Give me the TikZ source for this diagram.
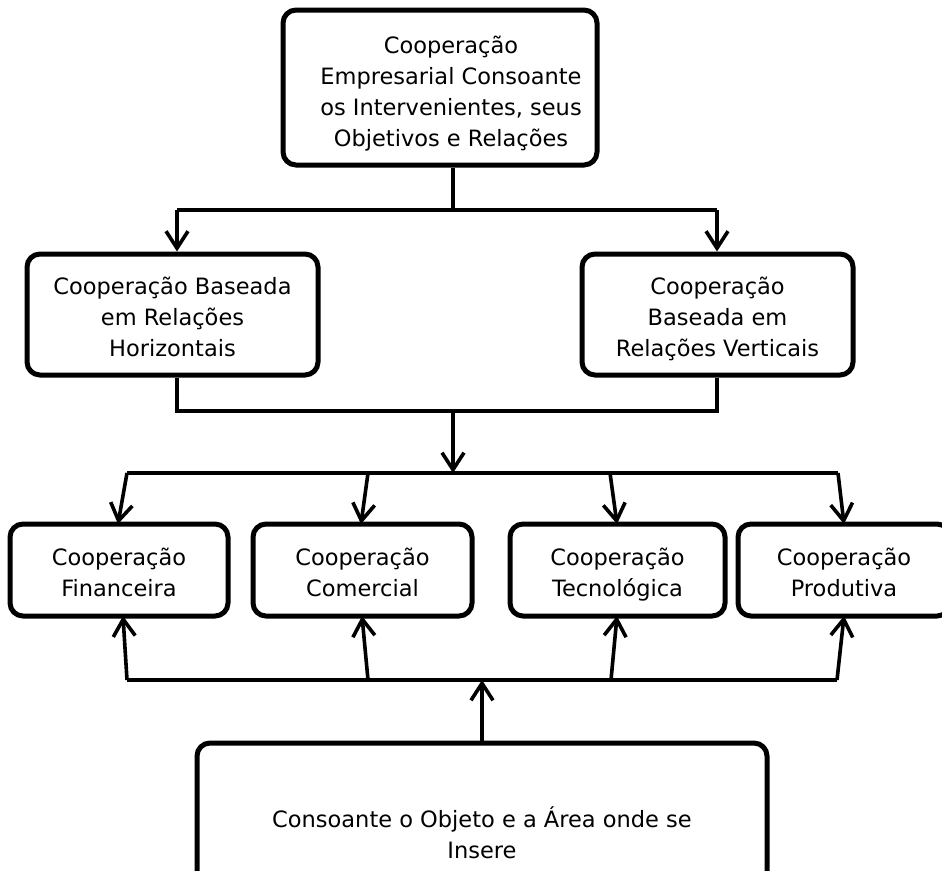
\documentclass[tikz,border=0pt]{standalone}
\usepackage{fontspec}
\setmainfont{DejaVu Sans}
\usetikzlibrary{arrows.meta}
\newcommand{\firstln}{\rule{0pt}{31.7pt}}
\tikzset{
  box/.style={draw=black, line width=5pt, rounded corners=13pt, fill=white,
    align=center, inner sep=0pt, font=\fontsize{22.5}{31}\selectfont,
    execute at end node={\strut}},
  conn/.style={draw=black, line width=3.6pt},
  arr/.style={conn, -{Straight Barb[length=17pt,width=22pt,line width=3.6pt]}}
}
\begin{document}
\begin{tikzpicture}[x=1pt,y=-1pt]
\useasboundingbox (0,0) rectangle (942,870);
\clip (0,0) rectangle (942,870);
% boxes
\node[box, minimum width=314pt, minimum height=155pt] (top) at (440,87.5)
  {\hspace*{22pt}\rule{0pt}{34.7pt}Cooperação\\\hspace*{22pt}Empresarial Consoante\\\hspace*{22pt}os Intervenientes, seus\\\hspace*{22pt}Objetivos e Relações};
\node[box, minimum width=291pt, minimum height=121pt] (midL) at (172.5,314.5)
  {\firstln Cooperação Baseada\\em Relações\\Horizontais};
\node[box, minimum width=271pt, minimum height=121pt] (midR) at (717.5,314.5)
  {\firstln Cooperação\\Baseada em\\Relações Verticais};
\node[box, minimum width=218pt, minimum height=92pt] (b1) at (119,570)
  {\firstln Cooperação\\Financeira};
\node[box, minimum width=219pt, minimum height=92pt] (b2) at (362.5,570)
  {\firstln Cooperação\\Comercial};
\node[box, minimum width=215pt, minimum height=92pt] (b3) at (617.5,570)
  {\firstln Cooperação\\Tecnológica};
\node[box, minimum width=212pt, minimum height=92pt] (b4) at (844,570)
  {\firstln Cooperação\\Produtiva};
\node[box, minimum width=570pt, minimum height=178pt] (bot) at (482,832)
  {\firstln Consoante o Objeto e a Área onde se\\Insere};
% junction coordinates
\coordinate (t1) at (453,210);
\coordinate (tL) at (177,210);
\coordinate (tR) at (717,210);
\coordinate (m1) at (453,411);
\coordinate (mL) at (177,411);
\coordinate (mR) at (717,411);
\coordinate (r1) at (127,473);
\coordinate (r2) at (368,473);
\coordinate (r3) at (610,473);
\coordinate (r4) at (838,473);
\coordinate (rm) at (453,473);
\coordinate (u1) at (127,680);
\coordinate (u2) at (368,680);
\coordinate (u3) at (611,680);
\coordinate (u4) at (837,680);
\coordinate (um) at (482,680);
% top tree
\draw[conn] (top.south -| t1) -- (t1);
\draw[conn] (tL) -- (tR);
\draw[arr] (tL) -- (midL.north -| tL);
\draw[arr] (tR) -- (midR.north -| tR);
% middle merge
\draw[conn] (midL.south -| mL) -- (mL) -- (mR) -- (midR.south -| mR);
\draw[arr] (m1) -- (rm);
% distribution row
\draw[conn] (r1) -- (r4);
\draw[arr] (r1) -- (118,524);
\draw[arr] (r2) -- (361,524);
\draw[arr] (r3) -- (617,524);
\draw[arr] (r4) -- (844,524);
% bottom collection
\draw[conn] (u1) -- (u4);
\draw[arr] (u1) -- (123,616);
\draw[arr] (u2) -- (362,616);
\draw[arr] (u3) -- (617,616);
\draw[arr] (u4) -- (844,616);
\draw[arr] (bot.north -| um) -- (um);
\end{tikzpicture}
\end{document}
